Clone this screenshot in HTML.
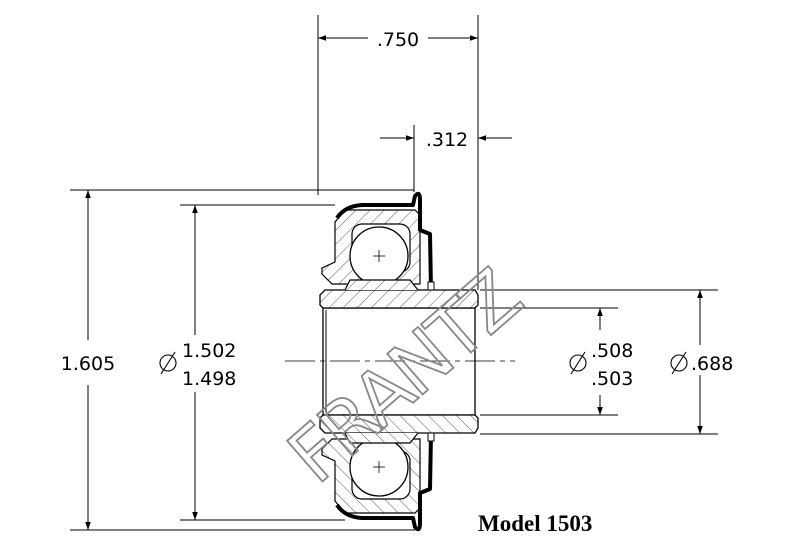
<!DOCTYPE html>
<html><head><meta charset="utf-8"><style>
html,body{margin:0;padding:0;background:#fff;}
svg{display:block;}
text{font-family:"DejaVu Sans","Liberation Sans",sans-serif;}
</style></head><body>
<svg width="809" height="542" viewBox="0 0 809 542" xmlns="http://www.w3.org/2000/svg">
<defs>
<pattern id="h" patternUnits="userSpaceOnUse" width="10" height="10" patternTransform="rotate(45)">
<rect width="10" height="10" fill="#fff"/><line x1="0" y1="0" x2="0" y2="10" stroke="#333" stroke-width="0.8"/>
</pattern>
<marker id="a" viewBox="0 0 10 10" refX="10" refY="5" markerWidth="12" markerHeight="8" markerUnits="userSpaceOnUse" orient="auto-start-reverse">
<path d="M0,1.5 L10,5 L0,8.5 z" fill="#000"/></marker>
<g id="half">
  <path d="M335,262 L335,222 L345,210 L415,210 L420,215 L420,284 L332,284 L322,274 L322,268 Z" fill="url(#h)" stroke="#000" stroke-width="1.2"/>
  <rect x="352" y="224" width="58" height="48" rx="10" fill="#fff" stroke="#000" stroke-width="1.2"/>
  <circle cx="379" cy="256" r="29" fill="#fff" stroke="#000" stroke-width="1.3"/>
  <line x1="373" y1="256" x2="385" y2="256" stroke="#000" stroke-width="0.8"/>
  <line x1="379" y1="250" x2="379" y2="262" stroke="#000" stroke-width="0.8"/>
  <path d="M320,295 L325,290 L475,290 L478,295 L478,305 L475,308 L323,308 L320,305 Z" fill="url(#h)" stroke="#000" stroke-width="1.3"/>
  <path d="M345,290 L350,280 L410,280 L418,290" fill="url(#h)" stroke="#000" stroke-width="1.2"/>
  <path d="M337,218 Q345,206 362,205 L413,205 L415,196 Q420,190 420,200 L420,230 L430,234 L431,290" fill="none" stroke="#000" stroke-width="4" stroke-linejoin="round"/>
  <rect x="428" y="282" width="6" height="8" fill="#fff" stroke="#000" stroke-width="1"/>
</g>
<g id="dia" fill="none" stroke="#000" stroke-width="1.1">
  <circle cx="0" cy="0" r="8"/><line x1="-7" y1="11" x2="7" y2="-11"/>
</g>
</defs>

<rect x="323" y="308" width="152" height="107" fill="#fff" stroke="#000" stroke-width="1.3"/>
<line x1="326" y1="310" x2="326" y2="413" stroke="#000" stroke-width="1"/>
<use href="#half"/>
<use href="#half" transform="matrix(1,0,0,-1,0,723)"/>
<line x1="285" y1="361" x2="515" y2="361" stroke="#000" stroke-width="0.8" stroke-dasharray="30,5,5,5"/>

<g stroke="#000" stroke-width="1" fill="none">
<line x1="318" y1="15" x2="318" y2="195"/>
<line x1="478" y1="15" x2="478" y2="290"/>
<line x1="318" y1="38" x2="368" y2="38" marker-start="url(#a)"/>
<line x1="428" y1="38" x2="478" y2="38" marker-end="url(#a)"/>
<line x1="414" y1="125" x2="414" y2="192"/>
<line x1="380" y1="138" x2="414" y2="138" marker-end="url(#a)"/>
<line x1="512" y1="138" x2="478" y2="138" marker-end="url(#a)"/>
<line x1="70" y1="190" x2="414" y2="190"/>
<line x1="70" y1="530" x2="415" y2="530"/>
<line x1="88" y1="190" x2="88" y2="340" marker-start="url(#a)"/>
<line x1="88" y1="385" x2="88" y2="530" marker-end="url(#a)"/>
<line x1="180" y1="205" x2="335" y2="205"/>
<line x1="180" y1="520" x2="345" y2="520"/>
<line x1="195" y1="205" x2="195" y2="335" marker-start="url(#a)"/>
<line x1="195" y1="392" x2="195" y2="520" marker-end="url(#a)"/>
<line x1="480" y1="290" x2="718" y2="290"/>
<line x1="480" y1="308" x2="618" y2="308"/>
<line x1="480" y1="415" x2="618" y2="415"/>
<line x1="480" y1="434" x2="718" y2="434"/>
<line x1="600" y1="330" x2="600" y2="308" marker-end="url(#a)"/>
<line x1="600" y1="395" x2="600" y2="415" marker-end="url(#a)"/>
<line x1="700" y1="290" x2="700" y2="434" marker-start="url(#a)" marker-end="url(#a)"/>
</g>

<text x="398" y="46" font-size="19" text-anchor="middle">.750</text>
<text x="447" y="146" font-size="19" text-anchor="middle">.312</text>
<text x="88" y="370" font-size="19" text-anchor="middle">1.605</text>
<use href="#dia" x="168" y="363"/>
<text x="182" y="357" font-size="19">1.502</text>
<text x="182" y="385" font-size="19">1.498</text>
<use href="#dia" x="578" y="363"/>
<text x="591" y="357" font-size="19">.508</text>
<text x="591" y="385" font-size="19">.503</text>
<rect x="672" y="345" width="67" height="30" fill="#fff"/>
<use href="#dia" x="679" y="363"/>
<text x="691" y="370" font-size="19">.688</text>

<text x="405" y="402" font-size="74" text-anchor="middle" fill="none" stroke="#888" stroke-width="1.8" letter-spacing="-3" transform="rotate(-41 405 378)">FRANTZ</text>

<text x="478" y="531" font-size="23" font-weight="bold" style="font-family:'Liberation Serif',serif">Model 1503</text>
</svg>
</body></html>
